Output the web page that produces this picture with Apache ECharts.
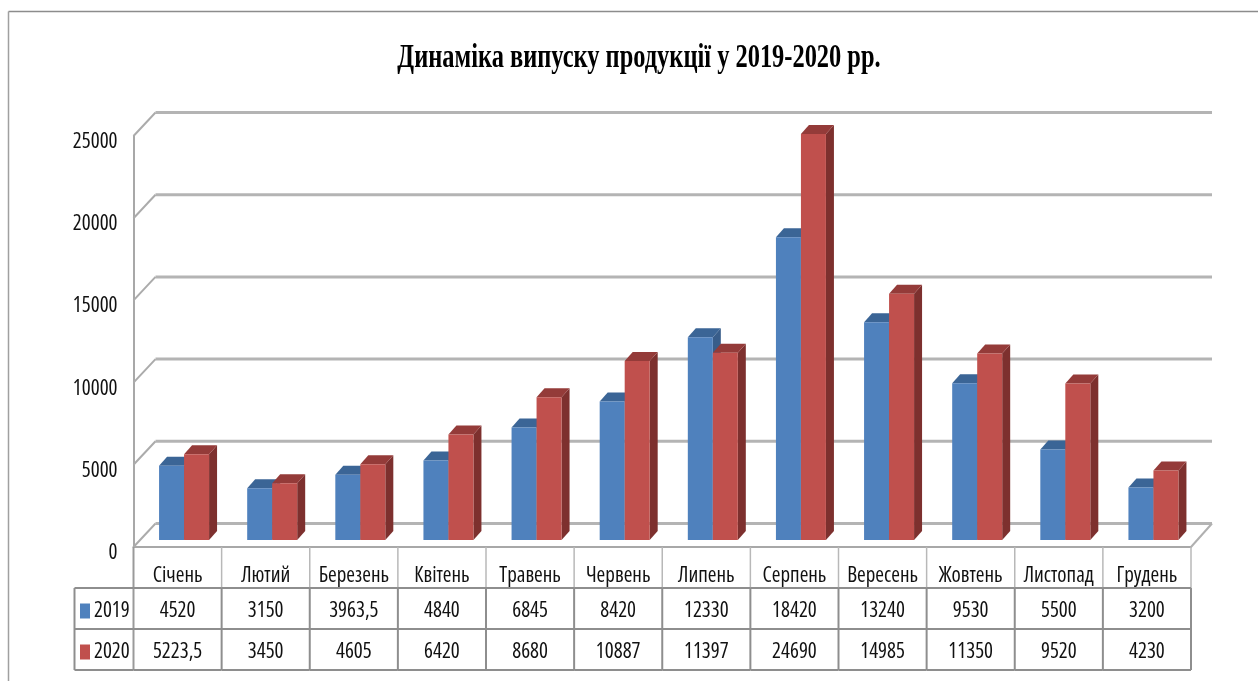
<!DOCTYPE html>
<html><head><meta charset="utf-8">
<style>html,body{margin:0;padding:0;background:#fff}#c{width:1258px;height:681px;filter:blur(0.35px)}</style>
<script src="https://cdn.jsdelivr.net/npm/echarts@6/dist/echarts.min.js"></script>
</head><body><div id="c"></div>
<script>
const months = ['Січень','Лютий','Березень','Квітень','Травень','Червень','Липень','Серпень','Вересень','Жовтень','Листопад','Грудень'];
const values2019 = [4520,3150,3963.5,4840,6845,8420,12330,18420,13240,9530,5500,3200];
const values2020 = [5223.5,3450,4605,6420,8680,10887,11397,24690,14985,11350,9520,4230];
const yTicks = [0,5000,10000,15000,20000,25000];
const chartTitle = 'Динаміка випуску продукції у 2019-2020 рр.';

const FAMILY = '"Open Sans"';
const COND = 'condensed';                // canvas font-stretch keyword, selects the condensed face
const FS = 21;
const WALL_DX = 22, WALL_DY = 23.5;      // depth of the chart box
const BAR_W = 25, BAR_DX = 8, BAR_DY = 9; // bar width and bar depth
const BAR_SHIFT_X = 6.5, BAR_SHIFT_Y = 7;
const ROW_H = 41;
const LEGEND_X = 74.5;
const fmt = v => String(v).replace('.', ',');

function barSeries(name, values, side, colors) {
  return {
    name, type: 'custom', coordinateSystem: 'cartesian2d', z: 5,
    itemStyle: { color: colors.front },
    data: values.map((v, i) => [i, v]),
    renderItem(params, api) {
      const i = api.value(0), v = api.value(1);
      const top = api.coord([i, v]), base = api.coord([i, 0]);
      const x0 = base[0] + BAR_SHIFT_X + (side < 0 ? -BAR_W : 0), x1 = x0 + BAR_W;
      const yb = base[1] - BAR_SHIFT_Y, yt = top[1] - BAR_SHIFT_Y;
      const poly = (points, fill) => ({ type: 'polygon', shape: { points }, style: { fill } });
      return { type: 'group', children: [
        poly([[x1,yt],[x1+BAR_DX,yt-BAR_DY],[x1+BAR_DX,yb-BAR_DY],[x1,yb]], colors.side),
        poly([[x0,yt],[x0+BAR_DX,yt-BAR_DY],[x1+BAR_DX,yt-BAR_DY],[x1,yt]], colors.top),
        { type: 'rect', shape: { x: x0, y: yt, width: BAR_W, height: yb - yt }, style: { fill: colors.front } }
      ]};
    }
  };
}

const wallSeries = {
  type: 'custom', silent: true, z: 1, legendHoverLink: false, clip: false,
  data: yTicks.map(v => [0, v]),
  renderItem(params, api) {
    const v = api.value(1);
    const w = api.size([1, 0])[0];
    const n = months.length;
    const a = api.coord([0, v]), b = api.coord([n - 1, v]);
    const ax = a[0] - w / 2, bx = b[0] + w / 2;
    const kids = [
      { type: 'line', shape: { x1: ax + WALL_DX, y1: a[1] - WALL_DY, x2: bx + WALL_DX - 1, y2: b[1] - WALL_DY },
        style: { stroke: '#b4b4b4', lineWidth: 3 } },
      { type: 'line', shape: { x1: ax, y1: a[1], x2: ax + WALL_DX, y2: a[1] - WALL_DY },
        style: { stroke: '#ababab', lineWidth: 2 } }
    ];
    if (v === 0) kids.push({ type: 'line', shape: { x1: bx, y1: b[1], x2: bx + WALL_DX - 1, y2: b[1] - WALL_DY },
        style: { stroke: '#b0b0b0', lineWidth: 2 } });
    return { type: 'group', children: kids };
  }
};

const tableSeries = {
  type: 'custom', silent: true, z: 3, legendHoverLink: false, clip: false,
  data: months.map((m, i) => [i, values2019[i], values2020[i]]),
  renderItem(params, api) {
    const i = api.value(0);
    const base = api.coord([i, 0]);
    const w = api.size([1, 0])[0];
    const y0 = base[1];
    const cell = (txt, row) => ({ type: 'text', style: {
      text: txt, x: base[0], y: y0 + ROW_H * row + 23, align: 'center', verticalAlign: 'middle',
      fill: '#111', font: COND + ' ' + FS + 'px ' + FAMILY } });
    const line = (x1, y1, x2, y2, c, lw) => ({ type: 'line', shape: { x1, y1, x2, y2 }, style: { stroke: c, lineWidth: lw } });
    const right = base[0] + w / 2, left = base[0] - w / 2;
    const kids = [
      line(right, y0, right, y0 + ROW_H, '#b8b8b8', 1.5),
      line(right, y0 + ROW_H, right, y0 + ROW_H * 3, '#8e8e8e', 2),
      cell(fmt(api.value(1)), 1),
      cell(fmt(api.value(2)), 2)
    ];
    if (i === 0) {
      kids.push(line(left, y0, left, y0 + ROW_H * 3, '#9a9a9a', 2));
      kids.push(line(LEGEND_X, y0 + ROW_H, LEGEND_X, y0 + ROW_H * 3, '#8e8e8e', 2));
      for (let r = 1; r <= 3; r++) kids.push(line(LEGEND_X, y0 + ROW_H * r, left, y0 + ROW_H * r, '#8e8e8e', 2));
    }
    for (let r = 1; r <= 3; r++) kids.push(line(left, y0 + ROW_H * r, right, y0 + ROW_H * r, '#8e8e8e', 2));
    return { type: 'group', children: kids };
  }
};

const labelFont = { fontFamily: FAMILY, fontWeight: COND, fontSize: FS, color: '#111' };
const chart = echarts.init(document.getElementById('c'), null, { renderer: 'canvas' });
chart.setOption({
  animation: false,
  backgroundColor: '#fff',
  grid: { left: 133.5, right: 67, top: 136, bottom: 134 },
  legend: {
    left: 80, top: 600, padding: 0, orient: 'vertical', itemWidth: 10, itemHeight: 15, itemGap: 19,
    icon: 'rect', selectedMode: false,
    data: ['2019', '2020'],
    textStyle: Object.assign({ lineHeight: 22, padding: [0, 0, 0, -1] }, labelFont)
  },
  xAxis: {
    type: 'category', data: months,
    axisLine: { lineStyle: { color: '#a8a8a8', width: 2 } },
    axisTick: { show: false },
    axisLabel: Object.assign({ margin: 18, interval: 0, lineHeight: 22 }, labelFont)
  },
  yAxis: {
    type: 'value', min: 0, max: 25000, interval: 5000,
    splitLine: { show: false },
    axisLine: { show: true, lineStyle: { color: '#a8a8a8', width: 2 } },
    axisTick: { show: false },
    axisLabel: Object.assign({ margin: 16, formatter: v => '{v|' + v + '}',
      rich: { v: Object.assign({ padding: [12, 0, 0, 0], lineHeight: 22 }, labelFont) } }, labelFont)
  },
  graphic: [
    { type: 'line', shape: { x1: 8.5, y1: 11.5, x2: 1258, y2: 11.5 }, style: { stroke: '#8c8c8c', lineWidth: 1.5 }, silent: true },
    { type: 'line', shape: { x1: 8.5, y1: 11.5, x2: 8.5, y2: 681 }, style: { stroke: '#a0a0a0', lineWidth: 1.5 }, silent: true },
    { type: 'text', x: 639, y: 58.5, scaleX: 0.74,
      style: { text: chartTitle, align: 'center', verticalAlign: 'middle',
               font: 'bold 33px "Liberation Serif",serif', fill: '#000' }, silent: true }
  ],
  series: [
    wallSeries,
    tableSeries,
    barSeries('2019', values2019, -1, { front: '#4f81bd', top: '#3b6596', side: '#385d8a' }),
    barSeries('2020', values2020, 1, { front: '#c0504d', top: '#943b39', side: '#7d302e' })
  ]
});
</script></body></html>
